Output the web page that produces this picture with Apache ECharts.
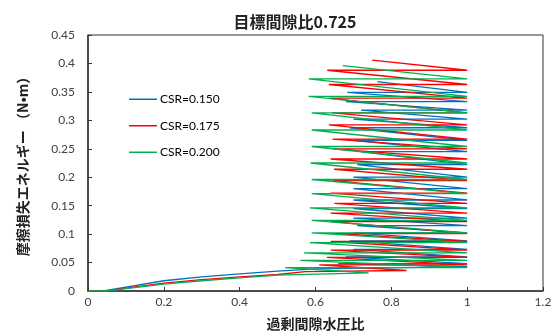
<!DOCTYPE html>
<html>
<head>
<meta charset="utf-8">
<script src="https://cdn.jsdelivr.net/npm/echarts@6/dist/echarts.min.js"></script>
<style>
  html, body { margin: 0; padding: 0; background: #fff; }
  #chart { width: 555px; height: 336px; }
</style>
</head>
<body>
<div id="chart"></div>
<script>
var titleText = "目標間隙比0.725";
var xName = "過剰間隙水圧比";
var yName = "摩擦損失エネルギー （N•m）";
var seriesNames = ["CSR=0.150", "CSR=0.175", "CSR=0.200"];

// initial build-up of pore pressure [ratio, energy]
var blueRise = [[0, 0], [0.04, 0], [0.1, 0.007], [0.2, 0.018], [0.3, 0.025], [0.4, 0.03], [0.5, 0.035], [0.6, 0.039], [1, 0.043]];
var redRise = [[0, 0], [0.05, 0], [0.1, 0.005], [0.2, 0.014], [0.3, 0.02], [0.4, 0.025], [0.5, 0.029], [0.573, 0.034], [0.84, 0.036]];
var greenRise = [[0, 0], [0.05, 0], [0.1, 0.004], [0.2, 0.012], [0.3, 0.018], [0.4, 0.023], [0.5, 0.028], [0.74, 0.032]];

// cyclic part: energy level of each cycle and the lowest ratio reached
var blueLevel = [0.048, 0.060, 0.073, 0.088, 0.102, 0.115, 0.128, 0.145, 0.160, 0.180, 0.200, 0.222, 0.245, 0.265, 0.287, 0.302, 0.318, 0.333, 0.349, 0.368];
var blueLeft = [0.66, 0.68, 0.70, 0.69, 0.70, 0.71, 0.70, 0.70, 0.70, 0.70, 0.70, 0.71, 0.72, 0.70, 0.69, 0.70, 0.72, 0.68, 0.684, 0.763];

var redLevel = [0.046, 0.059, 0.072, 0.087, 0.101, 0.122, 0.137, 0.154, 0.172, 0.194, 0.214, 0.232, 0.250, 0.267, 0.292, 0.313, 0.339, 0.363, 0.388, 0.406];
var redLeft = [0.61, 0.63, 0.64, 0.64, 0.65, 0.64, 0.64, 0.65, 0.64, 0.645, 0.649, 0.64, 0.645, 0.645, 0.635, 0.644, 0.635, 0.635, 0.631, 0.75];

var greenLevel = [0.041, 0.054, 0.067, 0.085, 0.102, 0.124, 0.146, 0.171, 0.196, 0.225, 0.254, 0.283, 0.313, 0.342, 0.373, 0.396];
var greenLeft = [0.52, 0.56, 0.57, 0.585, 0.59, 0.59, 0.585, 0.59, 0.59, 0.587, 0.59, 0.59, 0.59, 0.582, 0.582, 0.672];

function buildPath(rise, level, left) {
  var pts = rise.slice();
  for (var i = 0; i < level.length; i++) {
    pts.push([left[i], level[i]]);
    if (i < level.length - 1) pts.push([1, level[i]]);
  }
  return pts;
}

var myChart = echarts.init(document.getElementById("chart"));
var latin = "Lato, 'Noto Sans CJK JP', sans-serif";
var cjk = "'Noto Sans CJK JP', sans-serif";

function lineSeries(name, color, data) {
  return {
    name: name,
    type: "line",
    data: data,
    symbol: "none",
    showSymbol: false,
    animation: false,
    color: color,
    lineStyle: { color: color, width: 1.3 },
  };
}

var option = {
  animation: false,
  title: {
    text: titleText,
    left: 290,
    textAlign: "center",
    top: 9,
    textStyle: { fontFamily: cjk, fontSize: 16, fontWeight: "bold", color: "#222" },
  },
  legend: {
    orient: "vertical",
    left: 124,
    top: 87,
    icon: "rect",
    itemWidth: 28,
    itemHeight: 1.5,
    itemGap: 12,
    textStyle: { fontFamily: latin, fontSize: 12, color: "#000", lineHeight: 14.5, padding: [0, 0, 0, -2] },
    data: seriesNames,
  },
  grid: {
    left: 88,
    right: 12,
    top: 35,
    bottom: 45,
    show: true,
    borderColor: "#333",
    borderWidth: 1,
  },
  xAxis: {
    type: "value",
    min: 0,
    max: 1.2,
    interval: 0.2,
    name: xName,
    nameLocation: "middle",
    nameGap: 26,
    nameTextStyle: { fontFamily: cjk, fontSize: 14, fontWeight: "bold", color: "#222" },
    axisLine: { lineStyle: { color: "#333", width: 1.5 } },
    axisTick: { inside: true, length: 4, lineStyle: { color: "#333" } },
    axisLabel: { fontFamily: latin, fontSize: 12, color: "#404040", margin: 5 },
    splitLine: { show: false },
  },
  yAxis: {
    type: "value",
    min: 0,
    max: 0.45,
    interval: 0.05,
    name: yName,
    nameLocation: "middle",
    nameGap: 58,
    nameTextStyle: { fontFamily: cjk, fontSize: 14, fontWeight: "bold", color: "#222" },
    axisLine: { show: true, lineStyle: { color: "#333", width: 1.5 } },
    axisTick: { show: true, inside: true, length: 4, lineStyle: { color: "#333" } },
    axisLabel: { fontFamily: latin, fontSize: 12, color: "#404040", margin: 13 },
    splitLine: { show: false },
  },
  series: [
    lineSeries(seriesNames[0], "#0070C0", buildPath(blueRise, blueLevel, blueLeft)),
    lineSeries(seriesNames[1], "#FF0000", buildPath(redRise, redLevel, redLeft)),
    lineSeries(seriesNames[2], "#00B050", buildPath(greenRise, greenLevel, greenLeft)),
  ],
};

myChart.setOption(option);
</script>
</body>
</html>
